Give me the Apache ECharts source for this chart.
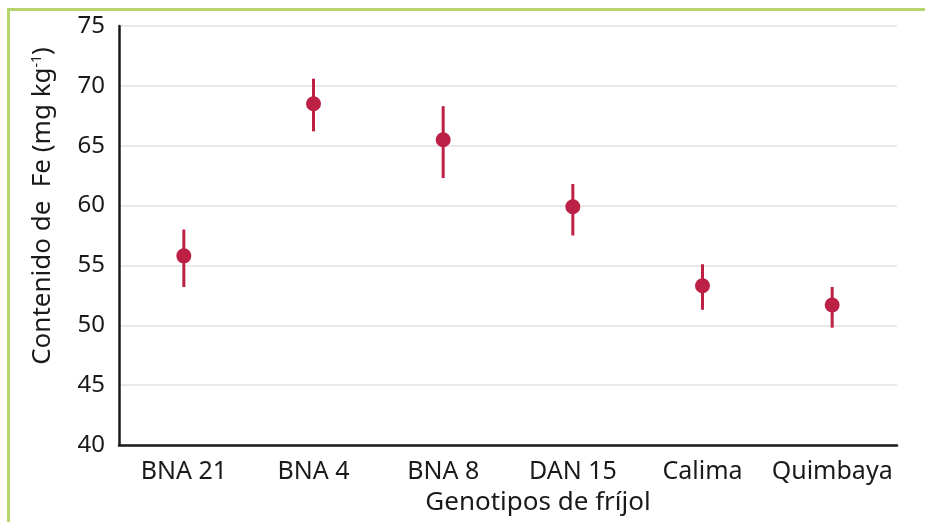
<!DOCTYPE html>
<html>
<head>
<meta charset="utf-8">
<script src="https://cdn.jsdelivr.net/npm/echarts@6/dist/echarts.min.js"></script>
<style>html,body{margin:0;padding:0;background:#fff}#c{width:925px;height:522px}</style>
</head>
<body>
<div id="c"></div>
<script>
const categories = ['BNA 21', 'BNA 4', 'BNA 8', 'DAN 15', 'Calima', 'Quimbaya'];
const means = [55.8, 68.5, 65.5, 59.9, 53.3, 51.7];
const lows  = [53.2, 66.2, 62.3, 57.5, 51.3, 49.8];
const highs = [58.0, 70.6, 68.3, 61.8, 55.1, 53.2];
const yTicks = [40, 45, 50, 55, 60, 65, 70, 75];

const FONT = 'Noto Sans';
const RED = '#bc2145';
const chart = echarts.init(document.getElementById('c'), null, {renderer: 'canvas'});
const errData = categories.map((c, i) => [i, lows[i], highs[i]]);

chart.setOption({
  animation: false,
  backgroundColor: '#fff',
  grid: {left: 119, right: 28, top: 26, bottom: 77, containLabel: false},
  graphic: [
    {type: 'rect', left: 6, top: 7, shape: {width: 1200, height: 1000},
     style: {fill: 'none', stroke: '#b6d46c', lineWidth: 3}, silent: true, z: -10},
    {type: 'text', x: 43, y: 206, rotation: Math.PI / 2,
     style: {
       text: '{n|Contenido de  Fe (mg kg}{s|-1}{n|)}',
       align: 'center', verticalAlign: 'middle',
       rich: {
         n: {fontFamily: FONT, fontSize: 26, fill: '#1a1a1a'},
         s: {fontFamily: FONT, fontSize: 14, fill: '#1a1a1a', verticalAlign: 'top', padding: [0, 0, 11, 0]}
       }
     }}
  ],
  xAxis: {
    type: 'category',
    data: categories,
    boundaryGap: true,
    axisLine: {lineStyle: {color: '#1a1a1a', width: 2.5}},
    axisTick: {show: false},
    axisLabel: {fontFamily: FONT, fontSize: 25, color: '#1a1a1a', margin: 14, interval: 0},
    name: 'Genotipos de fríjol',
    nameLocation: 'middle',
    nameGap: 45,
    nameTextStyle: {fontFamily: FONT, fontSize: 26, color: '#1a1a1a', padding: [0, 0, 0, 60]},
    splitLine: {show: false}
  },
  yAxis: {
    type: 'value',
    min: yTicks[0], max: yTicks[yTicks.length - 1], interval: 5,
    axisLine: {show: true, lineStyle: {color: '#1a1a1a', width: 2.5}},
    axisTick: {show: false},
    axisLabel: {fontFamily: FONT, fontSize: 24, color: '#1a1a1a', margin: 14},
    splitLine: {lineStyle: {color: '#e2e2e2', width: 1.5}}
  },
  series: [
    {
      type: 'custom',
      data: errData,
      renderItem: function (params, api) {
        const x = api.value(0);
        const p1 = api.coord([x, api.value(1)]);
        const p2 = api.coord([x, api.value(2)]);
        return {type: 'line', shape: {x1: p1[0], y1: p1[1], x2: p2[0], y2: p2[1]},
                style: {stroke: RED, lineWidth: 3}};
      },
      z: 2
    },
    {
      type: 'scatter',
      data: means,
      symbol: 'circle',
      symbolSize: 15,
      itemStyle: {color: RED, opacity: 1},
      z: 3
    }
  ]
});
</script>
</body>
</html>
